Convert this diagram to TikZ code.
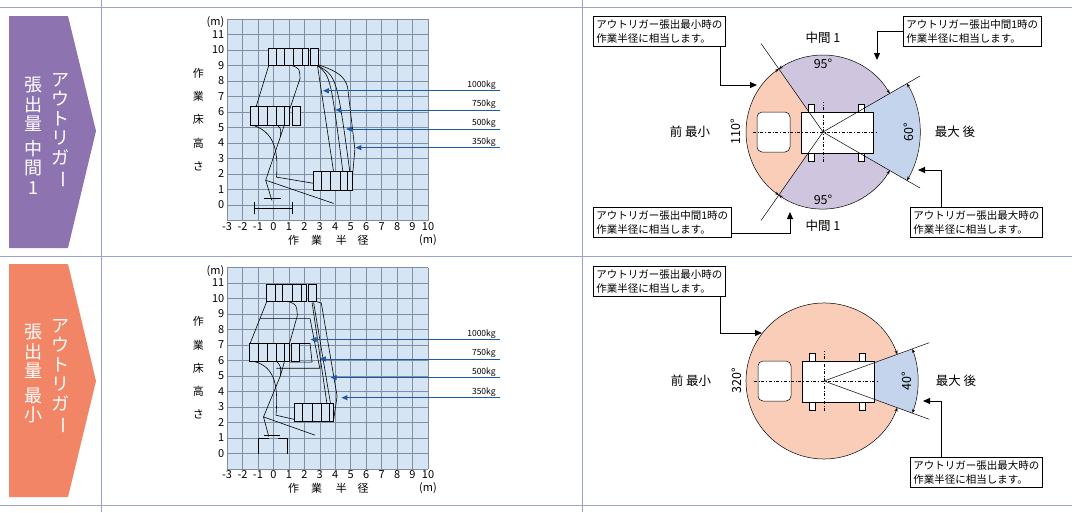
\documentclass[tikz,border=0pt]{standalone}
\usepackage{fontspec}
\setmainfont{Noto Sans CJK JP}
\usetikzlibrary{arrows.meta}
\definecolor{rulec}{HTML}{9AA3D0}
\definecolor{chevpurple}{HTML}{8D74B0}
\definecolor{chevsalmon}{HTML}{F28565}
\definecolor{gridfill}{HTML}{D5E5F4}
\definecolor{gridline}{HTML}{7F8FA6}
\definecolor{loadblue}{HTML}{1D5AA6}
\definecolor{frontfill}{HTML}{F9CDB7}
\definecolor{midfill}{HTML}{CFC5DF}
\definecolor{rearfill}{HTML}{C4D4EC}

\begin{document}
\begin{tikzpicture}[x=1pt,y=-1pt,
    tablerule/.style ={rulec, line width=0.8pt},
    vtext/.style ={white, font=\fontsize{18}{19.5}\selectfont, align=center, inner sep=0pt},
    chartgrid/.style ={gridline, line width=0.5pt},
    ticklabel/.style ={font=\fontsize{11}{12}\selectfont, inner sep=1pt},
    boom/.style ={black, line width=0.6pt},
    basket/.style ={draw=black, fill=gridfill, line width=0.9pt},
    loadline/.style ={loadblue, line width=0.9pt, -{Triangle[length=6pt,width=5pt]}},
    loadlabel/.style ={font=\fontsize{8.5}{9}\selectfont, anchor=south east, inner sep=1pt},
    callout/.style ={draw, fill=white, line width=0.6pt, font=\fontsize{10.5}{14}\selectfont, align=left, inner sep=3pt},
    calloutarrow/.style ={line width=1pt, -{Triangle[length=7pt,width=6pt]}},
    sectorlabel/.style ={font=\fontsize{12.5}{13}\selectfont},
    dimarc/.style ={line width=0.5pt, {Stealth[length=4pt]}-{Stealth[length=4pt]}}]
   \useasboundingbox (0,0) rectangle (1072,512);

   % table rules
   \draw[tablerule] (0,7) -- (1072,7);
   \draw[tablerule] (0,256) -- (1072,256);
   \draw[tablerule] (0,505) -- (1072,505);
   \draw[tablerule] (101,0) -- (101,512);
   \draw[tablerule] (582,0) -- (582,512);

   % row labels
   \fill[chevpurple] (9,16) -- (68,16) -- (96,131) -- (68,248) -- (9,248) -- cycle;
   \fill[chevsalmon] (9,264) -- (68,264) -- (96,381) -- (68,497) -- (9,497) -- cycle;
   \node[vtext] (mid1r) at (60,131) {ア\\ウ\\ト\\リ\\ガ\\\rotatebox[origin=c]{-90}{ー}};
   \node[vtext] (mid1l) at (33,136) {張\\出\\量\\[5pt]中\\間\\1};
   \node[vtext] (minr) at (60,377) {ア\\ウ\\ト\\リ\\ガ\\\rotatebox[origin=c]{-90}{ー}};
   \node[vtext] (minl) at (33,374) {張\\出\\量\\[5pt]最\\小};

   % working range chart, outrigger middle 1
   \begin{scope}[shift={(273.4pt,-205pt)}, x=15.46pt, y=15.5pt]
     \fill[gridfill] (-3,-1) rectangle (10,12);
     \foreach \i in {-3,...,10} \draw[chartgrid] (\i,-1) -- (\i,12);
     \foreach \j in {-1,...,12} \draw[chartgrid] (-3,\j) -- (10,\j);
     \foreach \j in {0,...,11} \node[ticklabel, anchor=east] (ya\j) at (-3.1,\j) {\j};
     \foreach \i in {-3,...,10} \node[ticklabel, anchor=north] (xa\i) at (\i,-1.05) {\i};
     \node[ticklabel] (yunita) at (-3.75,11.8) {(m)};
     \node[ticklabel] (xunita) at (10,-2.25) {(m)};
     \foreach \c/\y in {作/8.5,業/7,床/5.5,高/4,さ/2.5} \node[ticklabel] at (-4.85,\y) {\c};
     \foreach \c/\x in {作/1.3,業/2.8,半/4.4,径/5.8} \node[ticklabel] at (\x,-2.25) {\c};
     % envelope
     \draw[boom] (2.9,9.05) .. controls (4.2,8.6) and (4.6,8.3) .. (4.8,7.6) -- (5.27,3.6) -- (5.12,1.9);
     \draw[boom] (2.85,9.0) -- (3.9,2.1);
     \draw[boom] (2.85,9.0) .. controls (3.7,8.3) .. (4.5,2.1);
     \draw[boom] (2.85,9.0) .. controls (4.1,8.3) .. (4.95,2.1);
     \draw[boom] (-0.3,9.0) -- (-1.44,5.3);
     \draw[boom] (-1.2,5.1) .. controls (0.2,4.6) and (0.3,3.2) .. (0.2,1.8) -- (2.6,1.4);
     \draw[boom] (1.72,8.15) -- (0.45,4.4) -- (-0.5,1.6) -- (3.9,0.1);
     \draw[boom] (1.2,9.0) .. controls (1.7,8.8) .. (1.72,8.15);
     \draw[boom] (0.3,5.1) .. controls (0.5,4.9) .. (0.45,4.4);
     \draw[boom] (-0.5,1.6) -- (-0.1,0.3);
     \draw[boom, line width=1pt] (-1.2,-0.6) -- (-1.2,0.2) (-1.2,-0.2) -- (1.25,-0.2) (1.25,-0.6) -- (1.25,0.2) (-0.6,0.4) -- (0.5,0.4);
     \draw[basket] (-0.32,9.0) rectangle (2.26,10.1);
     \draw[basket] (2.4,9.0) rectangle (2.9,10.1);
     \draw[basket] (-1.5,5.15) rectangle (1.07,6.33);
     \draw[basket] (1.25,5.15) rectangle (1.76,6.33);
     \draw[basket] (2.58,0.97) rectangle (5.12,2.15);
     \foreach \x in {0.2,0.7,1.3,1.9} \draw[boom] (\x,9.0) -- (\x,10.1);
     \foreach \x in {-1.0,-0.4,0.2,0.7} \draw[boom] (\x,5.15) -- (\x,6.33);
     \foreach \x in {3.1,3.7,4.3,4.8} \draw[boom] (\x,0.97) -- (\x,2.15);
     % loads
     \foreach \w/\y/\t in {1000/7.37/3.2, 750/6.13/4.0, 500/4.9/4.7, 350/3.7/5.3} {
       \node[loadlabel] (loada\w) at (14.45,\y) {\w kg};
       \draw[loadline] (14.65,\y) -- (\t,\y);
     }
   \end{scope}

   % working range chart, outrigger minimum
   \begin{scope}[shift={(273.4pt,-453.5pt)}, x=15.46pt, y=15.5pt]
     \fill[gridfill] (-3,-1) rectangle (10,12);
     \foreach \i in {-3,...,10} \draw[chartgrid] (\i,-1) -- (\i,12);
     \foreach \j in {-1,...,12} \draw[chartgrid] (-3,\j) -- (10,\j);
     \foreach \j in {0,...,11} \node[ticklabel, anchor=east] (yb\j) at (-3.1,\j) {\j};
     \foreach \i in {-3,...,10} \node[ticklabel, anchor=north] (xb\i) at (\i,-1.05) {\i};
     \node[ticklabel] (yunitb) at (-3.75,11.8) {(m)};
     \node[ticklabel] (xunitb) at (10,-2.25) {(m)};
     \foreach \c/\y in {作/8.5,業/7,床/5.5,高/4,さ/2.5} \node[ticklabel] at (-4.85,\y) {\c};
     \foreach \c/\x in {作/1.3,業/2.8,半/4.4,径/5.8} \node[ticklabel] at (\x,-2.25) {\c};
     % envelope
     \draw[boom] (2.8,9.8) -- (3.1,9.7) -- (4.12,3.7) -- (3.9,2.2);
     \draw[boom] (2.5,9.75) -- (3.6,2.3);
     \draw[boom] (2.6,9.75) -- (3.85,2.3);
     \draw[boom] (-0.86,8.7) -- (2.37,8.7) -- (3.0,5.5) -- (0.2,5.5);
     \draw[boom] (1.5,7.1) -- (2.37,7.1) -- (2.5,5.9) -- (1.07,5.9);
     \draw[boom] (-0.43,9.8) -- (-1.55,7.0);
     \draw[boom] (-1.3,5.95) .. controls (0.2,5.6) and (0.3,4.2) .. (0.17,2.47) -- (1.35,2.2);
     \draw[boom] (1.55,8.9) -- (0.45,5.0) -- (-0.64,2.36) -- (2.7,1.18);
     \draw[boom] (1.0,9.8) .. controls (1.5,9.6) .. (1.55,8.9);
     \draw[boom] (0.2,5.95) .. controls (0.5,5.6) .. (0.45,5.0);
     \draw[boom] (-0.64,2.36) -- (-0.3,1.1);
     \draw[boom, line width=1pt] (-0.97,0) -- (-0.97,0.95) -- (-0.3,0.95) (0.3,0.95) -- (0.9,0.95) -- (0.9,0) (-0.6,1.15) -- (0.4,1.15);
     \draw[basket] (-0.43,9.8) rectangle (2.15,10.9);
     \draw[basket] (2.25,9.8) rectangle (2.8,10.9);
     \draw[basket] (-1.55,5.95) rectangle (1.07,7.08);
     \draw[basket] (1.17,5.95) rectangle (1.67,7.08);
     \draw[basket] (1.35,2.08) rectangle (3.9,3.2);
     \foreach \x in {0.1,0.6,1.2,1.8} \draw[boom] (\x,9.8) -- (\x,10.9);
     \foreach \x in {-1.0,-0.4,0.2,0.7} \draw[boom] (\x,5.95) -- (\x,7.08);
     \foreach \x in {1.9,2.5,3.1,3.6} \draw[boom] (\x,2.08) -- (\x,3.2);
     % loads
     \foreach \w/\y/\t in {1000/7.35/2.4, 750/6.1/3.0, 500/4.9/3.7, 350/3.6/4.4} {
       \node[loadlabel] (loadb\w) at (14.45,\y) {\w kg};
       \draw[loadline] (14.65,\y) -- (\t,\y);
     }
   \end{scope}

   % slewing range, outrigger middle 1
   \begin{scope}[shift={(823pt,-132pt)}, x=1pt, y=1pt]
     \fill[frontfill] (0,0) -- (125:77) arc[start angle=125, end angle=235, radius=77] -- cycle;
     \fill[midfill] (0,0) -- (30:77) arc[start angle=30, end angle=125, radius=77] -- cycle;
     \fill[midfill] (0,0) -- (235:77) arc[start angle=235, end angle=330, radius=77] -- cycle;
     \fill[rearfill] (0,0) -- (-30:97) arc[start angle=-30, end angle=30, radius=97] -- cycle;
     \draw[dimarc] (30:77) arc[start angle=30, end angle=125, radius=77];
     \draw[dimarc] (125:77) arc[start angle=125, end angle=235, radius=77];
     \draw[dimarc] (235:77) arc[start angle=235, end angle=330, radius=77];
     \draw[dimarc] (-30:97) arc[start angle=-30, end angle=30, radius=97];
     \draw[fill=white, line width=0.5pt, rounded corners=5pt] (-66,-20) rectangle (-33,20);
     \draw[fill=white, line width=0.5pt] (-22,-21) rectangle (50,20);
     \foreach \x in {-15,35} \draw[fill=white, line width=0.5pt] (\x,20) rectangle (\x+6,28) (\x,-21) rectangle (\x+6,-29);
     \draw[line width=0.4pt, dash dot] (-70,0) -- (55,0) (0,-30) -- (0,30);
     \foreach \a/\r in {125/108, 235/108, 30/112, -30/112} \draw[line width=0.5pt] (0,0) -- (\a:\r);
     \node[sectorlabel] (topa) at (0,94) {中間 1};
     \node[sectorlabel] (topdeg) at (0,68) {95°};
     \node[sectorlabel] (botdeg) at (0,-68) {95°};
     \node[sectorlabel] (bota) at (0,-94) {中間 1};
     \node[sectorlabel] (fronta) at (-133,0) {前\ 最小};
     \node[sectorlabel, rotate=90] (frontdeg) at (-87,0) {110°};
     \node[sectorlabel, rotate=90] (reardeg) at (86,0) {60°};
     \node[sectorlabel] (reara) at (132,0) {最大\ 後};
   \end{scope}
   \node[callout, anchor=north west] (noteA) at (593,16) {アウトリガー張出最小時の\\作業半径に相当します。};
   \node[callout, anchor=north west] (noteB) at (903,16) {アウトリガー張出中間1時の\\作業半径に相当します。};
   \node[callout, anchor=north west] (noteC) at (593,207) {アウトリガー張出中間1時の\\作業半径に相当します。};
   \node[callout, anchor=north west] (noteD) at (910,207) {アウトリガー張出最大時の\\作業半径に相当します。};
   \coordinate (tipA) at (757,85);
   \coordinate (tipB) at (877,60);
   \coordinate (tipC) at (790,212);
   \coordinate (tipD) at (918,170);
   \draw[calloutarrow] (noteA.south -| 720,0) |- (tipA);
   \draw[calloutarrow] (noteB.west) -| (tipB);
   \draw[calloutarrow] (noteC.east |- 0,233) -| (tipC);
   \draw[calloutarrow] (noteD.north -| 941,0) |- (tipD);

   % slewing range, outrigger minimum
   \begin{scope}[shift={(824pt,-381pt)}, x=1pt, y=1pt]
     \fill[frontfill] (0,0) -- (20:78) arc[start angle=20, end angle=340, radius=78] -- cycle;
     \fill[rearfill] (0,0) -- (-20:94) arc[start angle=-20, end angle=20, radius=94] -- cycle;
     \draw[dimarc] (20:78) arc[start angle=20, end angle=340, radius=78];
     \draw[dimarc] (-20:94) arc[start angle=-20, end angle=20, radius=94];
     \draw[fill=white, line width=0.5pt, rounded corners=5pt] (-66,-20) rectangle (-33,20);
     \draw[fill=white, line width=0.5pt] (-22,-21) rectangle (50,20);
     \foreach \x in {-15,35} \draw[fill=white, line width=0.5pt] (\x,20) rectangle (\x+6,28) (\x,-21) rectangle (\x+6,-29);
     \draw[line width=0.4pt, dash dot] (-70,0) -- (55,0) (0,-30) -- (0,30);
     \foreach \a in {20,-20} \draw[line width=0.5pt] (0,0) -- (\a:112);
     \node[sectorlabel] (frontb) at (-133,0) {前\ 最小};
     \node[sectorlabel, rotate=90] (frontdegb) at (-87,0) {320°};
     \node[sectorlabel, rotate=90] (reardegb) at (83,0) {40°};
     \node[sectorlabel] (rearb) at (132,0) {最大\ 後};
   \end{scope}
   \node[callout, anchor=north west] (noteE) at (593,266) {アウトリガー張出最小時の\\作業半径に相当します。};
   \node[callout, anchor=north west] (noteF) at (910,457) {アウトリガー張出最大時の\\作業半径に相当します。};
   \coordinate (tipE) at (762,333);
   \coordinate (tipF) at (923,401);
   \draw[calloutarrow] (noteE.south -| 720,0) |- (tipE);
   \draw[calloutarrow] (noteF.north -| 941,0) |- (tipF);
\end{tikzpicture}
\end{document}
